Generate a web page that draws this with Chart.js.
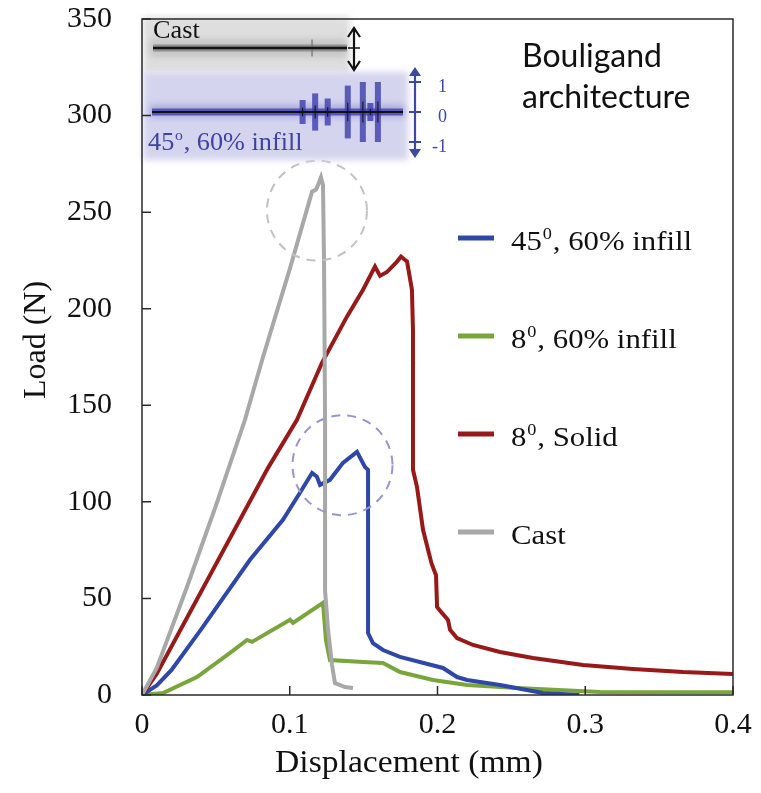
<!DOCTYPE html>
<html>
<head>
<meta charset="utf-8">
<script src="https://cdn.jsdelivr.net/npm/chart.js@4.4.1/dist/chart.umd.min.js"></script>
<style>
  html, body { margin: 0; padding: 0; background: #fff; }
  #wrap { width: 761px; height: 793px; position: relative; }
</style>
</head>
<body>
<div id="wrap"><canvas id="loadChart"></canvas></div>
<script>
// Load (N) vs displacement (mm)
const blueX = [0, 0.01, 0.02, 0.04, 0.0731, 0.0954, 0.1069, 0.1151, 0.1184, 0.1205, 0.1272, 0.1360, 0.1455, 0.1509, 0.1530, 0.1530, 0.1563, 0.1631, 0.1746, 0.2037, 0.2132, 0.2200, 0.2423, 0.2714, 0.296];
const blueY = [0, 5, 13, 34, 70, 90.7, 104.7, 115, 113, 108.8, 111.4, 120.2, 125.9, 118.1, 116.6, 32.1, 26.9, 23.3, 19.7, 14, 9.3, 7.8, 5.2, 1, 0];

const greenX = [0, 0.0142, 0.0372, 0.0596, 0.0711, 0.0745, 0.1002, 0.1022, 0.1225, 0.1245, 0.1272, 0.1496, 0.1631, 0.1746, 0.1970, 0.2200, 0.2538, 0.3100, 0.40];
const greenY = [0, 1, 9.3, 21.8, 28.5, 27.5, 38.9, 37.3, 47.7, 28.5, 18.1, 17.1, 16.6, 11.9, 7.8, 5.2, 3.6, 1.6, 1.4];

const redX = [0, 0.01, 0.0853, 0.1049, 0.1218, 0.1387, 0.1496, 0.1577, 0.1611, 0.1658, 0.1726, 0.1753, 0.1794, 0.1827, 0.1834, 0.1834, 0.1861, 0.1902, 0.1960, 0.1990, 0.1997, 0.2030, 0.2071, 0.2085, 0.2132, 0.2240, 0.2423, 0.2646, 0.2985, 0.3323, 0.3662, 0.40];
const redY = [0, 11, 117.6, 142.5, 172, 195.9, 209.8, 221.8, 217, 219, 224.4, 227, 224.4, 209.8, 189, 116.6, 107.8, 85.5, 68, 62, 45.6, 42.5, 38.9, 33.7, 29.5, 25.9, 22.3, 19.2, 15.5, 13.5, 11.9, 10.9];

const grayX = [0, 0.01, 0.03, 0.05, 0.0697, 0.0819, 0.1002, 0.1151, 0.1178, 0.119, 0.1211, 0.1225, 0.1232, 0.1239, 0.1239, 0.1259, 0.1286, 0.1306, 0.1374, 0.1428];
const grayY = [0, 14, 55, 98, 142.5, 175, 221, 260.6, 261.7, 263.7, 268, 264, 225, 142.5, 54, 34, 15.5, 6.2, 4.1, 3.6];

const seriesLabels = ['45⁰, 60% infill', '8⁰, 60% infill', '8⁰, Solid', 'Cast'];
const seriesColors = ['#2f47a6', '#7aa53c', '#961a1a', '#a8a8a8'];

const xTickLabels = ['0', '0.1', '0.2', '0.3', '0.4'];
const yTickLabels = ['0', '50', '100', '150', '200', '250', '300', '350'];

// dashed circles around the peaks (data coords)
const circleX = [0.1184, 0.1357];
const circleY = [250.8, 119];
const circleColors = ['#c2c2c2', '#9696cc'];

// inset signal traces: burst position along trace (0..1) and amplitude (inset units)
const castSpikePos = [0.82];
const castSpikeAmp = [0.4];
const blueBurstPos = [0.60, 0.65, 0.70, 0.78, 0.84, 0.87, 0.90];
const blueBurstAmp = [0.40, 0.62, 0.45, 0.88, 1.0, 0.3, 1.0];

const SERIF = '"Liberation Serif", "Times New Roman", serif';

function toPoints(xs, ys) {
    return xs.map((x, i) => ({ x: x, y: ys[i] }));
}

function drawRich(ctx, text, x, y, size, color, stretch) {
    ctx.save();
    ctx.translate(x, y);
    ctx.scale(stretch, 1);
    ctx.fillStyle = color;
    ctx.textBaseline = 'alphabetic';
    ctx.textAlign = 'left';
    let cx = 0;
    for (const ch of text) {
        if (ch === '⁰' || ch === '°') {
            const s = Math.round(size * 0.6);
            const g = ch === '⁰' ? '0' : 'o';
            ctx.font = s + 'px ' + SERIF;
            ctx.fillText(g, cx + size * 0.03, -size * 0.4);
            cx += ctx.measureText(g).width + size * 0.06;
        } else {
            ctx.font = size + 'px ' + SERIF;
            ctx.fillText(ch, cx, 0);
            cx += ctx.measureText(ch).width;
        }
    }
    ctx.restore();
}

function vArrow(ctx, x, y1, y2, color, filled) {
    ctx.save();
    ctx.strokeStyle = color;
    ctx.fillStyle = color;
    ctx.lineWidth = 2.2;
    ctx.beginPath();
    ctx.moveTo(x, y1 + (filled ? 4 : 0));
    ctx.lineTo(x, y2 - (filled ? 4 : 0));
    ctx.stroke();
    [[y1, 1], [y2, -1]].forEach(([y, d]) => {
        ctx.beginPath();
        ctx.moveTo(x - 6, y + 9 * d);
        ctx.lineTo(x, y);
        ctx.lineTo(x + 6, y + 9 * d);
        if (filled) { ctx.closePath(); ctx.fill(); } else { ctx.stroke(); }
    });
    ctx.restore();
}

function noLabelPadding(scale) {
    scale.paddingTop = 0;
    scale.paddingBottom = 0;
    scale.paddingLeft = 0;
    scale.paddingRight = 0;
}

const decorPlugin = {
    id: 'decor',
    afterDatasetsDraw(chart) {
        const ctx = chart.ctx;
        const a = chart.chartArea;
        const xs = chart.scales.x, ys = chart.scales.y;

        // dashed highlight circles
        ctx.save();
        ctx.lineWidth = 2;
        ctx.setLineDash([9, 7]);
        circleX.forEach((v, i) => {
            ctx.strokeStyle = circleColors[i];
            ctx.beginPath();
            ctx.arc(xs.getPixelForValue(v), ys.getPixelForValue(circleY[i]), 50, 0, Math.PI * 2);
            ctx.stroke();
        });
        ctx.restore();

        // inset: cast signal
        const ox = a.left, oy = a.top;
        ctx.save();
        ctx.filter = 'blur(3px)';
        ctx.fillStyle = '#dedede';
        ctx.fillRect(ox + 1, oy - 2, 207, 56);
        ctx.fillStyle = '#c6c6c6';
        ctx.fillRect(ox + 8, oy + 20, 196, 18);
        ctx.fillStyle = '#d4d4ee';
        ctx.fillRect(ox + 1, oy + 53, 265, 88);
        ctx.fillStyle = '#a9a9dc';
        ctx.fillRect(ox + 8, oy + 86, 254, 12);
        ctx.restore();

        const cy = oy + 29, cx0 = ox + 11, cx1 = ox + 205;
        ctx.save();
        ctx.strokeStyle = 'rgba(120,120,120,0.7)';
        ctx.lineWidth = 7;
        ctx.beginPath(); ctx.moveTo(cx0, cy); ctx.lineTo(cx1, cy); ctx.stroke();
        ctx.lineWidth = 2;
        castSpikePos.forEach((p, i) => {
            const x = cx0 + p * (cx1 - cx0);
            ctx.beginPath(); ctx.moveTo(x, cy - castSpikeAmp[i] * 21); ctx.lineTo(x, cy + castSpikeAmp[i] * 21); ctx.stroke();
        });
        ctx.strokeStyle = '#111';
        ctx.lineWidth = 2.5;
        ctx.beginPath(); ctx.moveTo(cx0, cy); ctx.lineTo(cx1, cy); ctx.stroke();
        ctx.restore();
        vArrow(ctx, ox + 212, oy + 9, oy + 51, '#111', false);
        ctx.save();
        ctx.strokeStyle = '#111'; ctx.lineWidth = 1.5;
        ctx.beginPath(); ctx.moveTo(ox + 206, cy); ctx.lineTo(ox + 218, cy); ctx.stroke();
        ctx.restore();
        drawRich(ctx, 'Cast', ox + 11, oy + 19, 25, '#111', 1.05);

        // inset: 45 deg signal
        const by = oy + 93, bx0 = ox + 10, bx1 = ox + 261, unit = 30;
        ctx.save();
        ctx.strokeStyle = 'rgba(70,70,175,0.85)';
        ctx.lineWidth = 7;
        ctx.beginPath(); ctx.moveTo(bx0, by); ctx.lineTo(bx1, by); ctx.stroke();
        blueBurstPos.forEach((p, i) => {
            const x = bx0 + p * (bx1 - bx0);
            const h = blueBurstAmp[i] * unit;
            ctx.fillStyle = 'rgba(60,60,170,0.8)';
            ctx.fillRect(x - 3, by - h, 6, 2 * h);
            ctx.strokeStyle = '#111';
            ctx.lineWidth = 1;
            ctx.beginPath(); ctx.moveTo(x, by - h * 0.35); ctx.lineTo(x, by + h * 0.35); ctx.stroke();
        });
        ctx.strokeStyle = '#111';
        ctx.lineWidth = 2;
        ctx.beginPath(); ctx.moveTo(bx0, by); ctx.lineTo(bx1, by); ctx.stroke();
        ctx.restore();

        const axX = ox + 273;
        vArrow(ctx, axX, oy + 48, oy + 139, '#3a4aa0', true);
        ctx.save();
        ctx.strokeStyle = '#3a4aa0'; ctx.lineWidth = 2;
        ctx.fillStyle = '#3b4a9c';
        ctx.font = '18px ' + SERIF;
        ctx.textAlign = 'right';
        ctx.textBaseline = 'middle';
        [1, 0, -1].forEach(v => {
            const y = by - v * unit;
            ctx.beginPath(); ctx.moveTo(axX - 6, y); ctx.lineTo(axX + 6, y); ctx.stroke();
            ctx.fillText(String(v), axX + 32, y + 5);
        });
        ctx.restore();
        drawRich(ctx, '45°, 60% infill', ox + 6, oy + 131, 25, '#3f43a0', 1.05);
    },
    afterDraw(chart) {
        const ctx = chart.ctx;
        const a = chart.chartArea;
        const xs = chart.scales.x, ys = chart.scales.y;

        // frame and inward ticks
        ctx.save();
        ctx.strokeStyle = '#2a2a2a';
        ctx.lineWidth = 1.5;
        ctx.strokeRect(a.left, a.top, a.right - a.left, a.bottom - a.top);
        ctx.beginPath();
        xs.ticks.forEach(t => {
            const px = xs.getPixelForValue(t.value);
            ctx.moveTo(px, a.bottom); ctx.lineTo(px, a.bottom - 9);
        });
        ys.ticks.forEach(t => {
            const py = ys.getPixelForValue(t.value);
            ctx.moveTo(a.left, py); ctx.lineTo(a.left + 9, py);
        });
        ctx.stroke();
        ctx.restore();

        // legend
        chart.data.datasets.forEach((ds, i) => {
            const y = 238 + i * 98;
            ctx.save();
            ctx.strokeStyle = ds.borderColor;
            ctx.lineWidth = 5;
            ctx.beginPath(); ctx.moveTo(458, y); ctx.lineTo(494, y); ctx.stroke();
            ctx.restore();
            drawRich(ctx, ds.label, 511, y + 12, 27, '#111', 1.14);
        });

        // axis titles
        ctx.save();
        ctx.translate(45, 340);
        ctx.rotate(-Math.PI / 2);
        ctx.font = '32px ' + SERIF;
        ctx.fillStyle = '#111';
        ctx.textAlign = 'center';
        ctx.textBaseline = 'alphabetic';
        ctx.fillText('Load (N)', 0, 0);
        ctx.restore();

        ctx.save();
        ctx.translate(409, 772);
        ctx.scale(1.05, 1);
        ctx.font = '32px ' + SERIF;
        ctx.fillStyle = '#111';
        ctx.textAlign = 'center';
        ctx.fillText('Displacement (mm)', 0, 0);
        ctx.restore();

        // annotation
        ctx.save();
        ctx.font = '32px Lato, "Open Sans", sans-serif';
        ctx.fillStyle = '#111';
        ctx.textAlign = 'left';
        ctx.fillText('Bouligand', 522, 67);
        ctx.fillText('architecture', 522, 108);
        ctx.restore();
    }
};

document.addEventListener('DOMContentLoaded', function () {
    const ctx = document.getElementById('loadChart');
    const seriesX = [blueX, greenX, redX, grayX];
    const seriesY = [blueY, greenY, redY, grayY];
    const drawOrder = [2, 3, 1, 0];

    new Chart(ctx, {
        type: 'line',
        data: {
            datasets: seriesLabels.map((label, i) => ({
                label: label,
                data: toPoints(seriesX[i], seriesY[i]),
                borderColor: seriesColors[i],
                backgroundColor: seriesColors[i],
                borderWidth: 4,
                pointRadius: 0,
                tension: 0,
                fill: false,
                order: drawOrder[i]
            }))
        },
        options: {
            responsive: true,
            maintainAspectRatio: false,
            animation: false,
            layout: { padding: { top: 19, right: 28, left: 0, bottom: 0 } },
            plugins: {
                legend: { display: false },
                tooltip: { enabled: false }
            },
            scales: {
                x: {
                    type: 'linear',
                    min: 0,
                    max: 0.4,
                    grid: { display: false, drawTicks: false },
                    border: { display: false },
                    afterFit: function (scale) { scale.height = 98; noLabelPadding(scale); },
                    ticks: {
                        stepSize: 0.1,
                        padding: 12,
                        color: '#111',
                        font: { family: SERIF, size: 30 },
                        callback: function (value, index) { return xTickLabels[index]; }
                    }
                },
                y: {
                    min: 0,
                    max: 350,
                    grid: { display: false, drawTicks: false },
                    border: { display: false },
                    afterFit: function (scale) { scale.width = 142; noLabelPadding(scale); },
                    ticks: {
                        stepSize: 50,
                        padding: 30,
                        color: '#111',
                        font: { family: SERIF, size: 30 },
                        callback: function (value, index) { return yTickLabels[index]; }
                    }
                }
            }
        },
        plugins: [decorPlugin]
    });
});
</script>
</body>
</html>
